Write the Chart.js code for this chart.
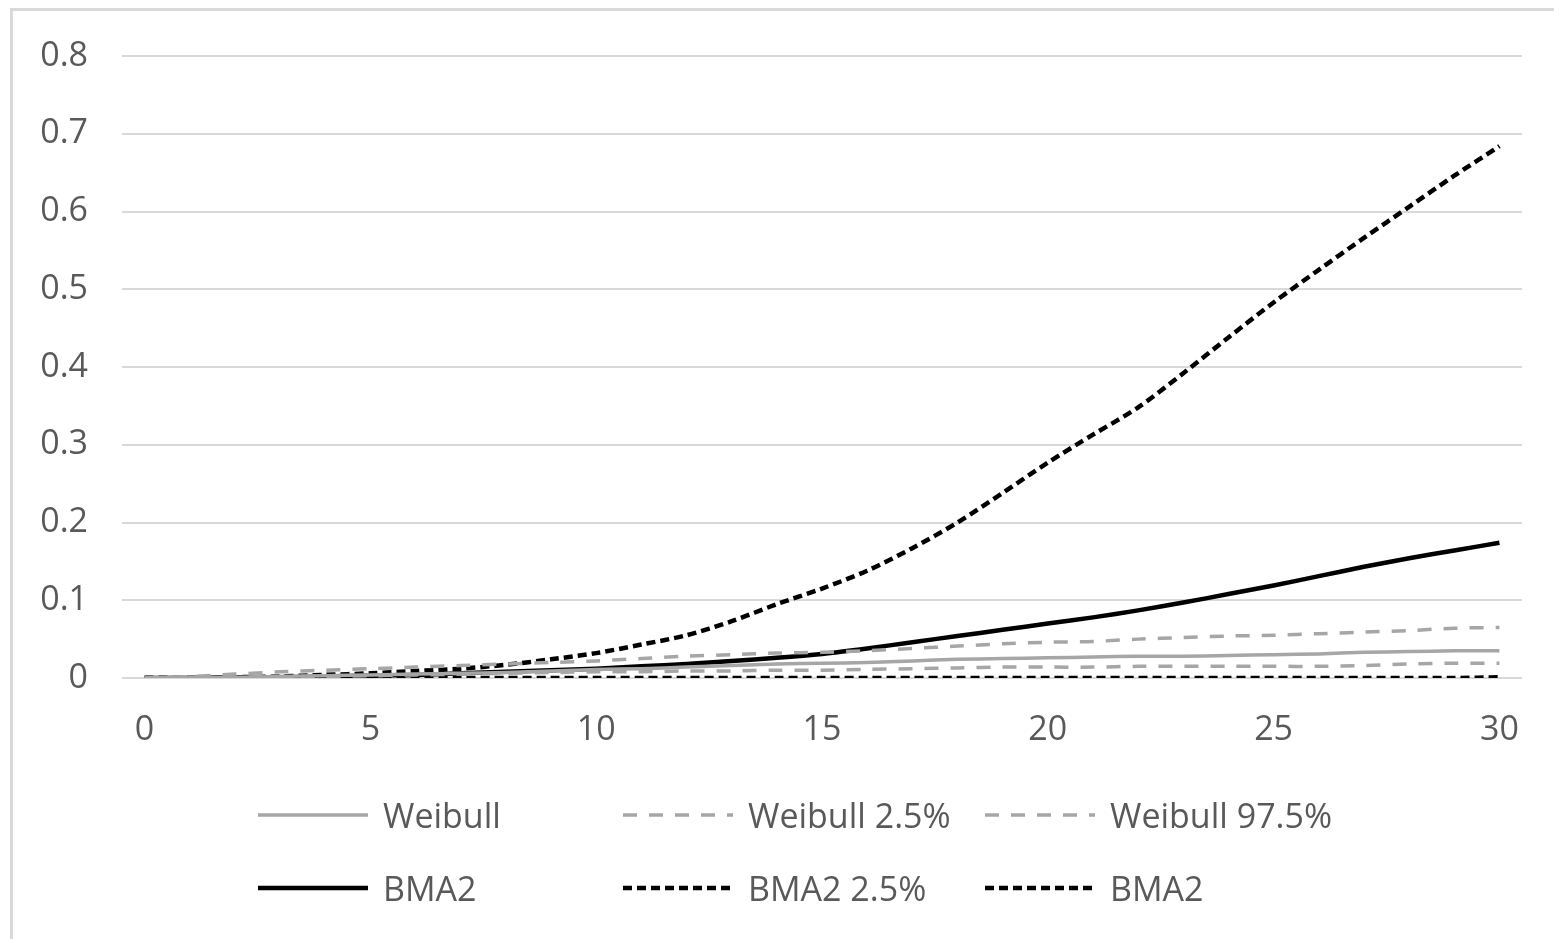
<!DOCTYPE html>
<html>
<head>
<meta charset="utf-8">
<title>Weibull vs BMA2</title>
<script src="https://cdn.jsdelivr.net/npm/chart.js@4.4.0/dist/chart.umd.min.js"></script>
<style>
	html, body { margin: 0; padding: 0; background: #fff; overflow: hidden; }
	#wrap { position: relative; width: 1554px; height: 939px; }
	#frame {
		position: absolute; left: 10px; top: 8px;
		width: 1600px; height: 1000px;
		border: 3px solid #d9d9d9; box-sizing: border-box;
	}
	#chartBox { position: absolute; left: 0; top: 0; width: 1554px; height: 939px; }
	#legend {
		position: absolute; left: 258px; top: 790px;
		display: grid; grid-template-columns: 365px 362px 320px;
		row-gap: 23px;
		font-family: "Open Sans", sans-serif; font-size: 34px; color: #595959;
	}
	.item { display: flex; align-items: center; height: 50px; white-space: nowrap; }
	.item svg { margin-right: 15px; flex-shrink: 0; }
</style>
</head>
<body>
<div id="wrap">
	<div id="frame"></div>
	<div id="chartBox"><canvas id="chart"></canvas></div>
	<div id="legend"></div>
</div>
<script>
// x = 0..30
const years = Array.from({ length: 31 }, (_, i) => String(i));
const xTickLabels = ["0", "5", "10", "15", "20", "25", "30"];
const yTicks = [0, 0.1, 0.2, 0.3, 0.4, 0.5, 0.6, 0.7, 0.8];

const seriesNames = ["Weibull", "Weibull 2.5%", "Weibull 97.5%", "BMA2", "BMA2 2.5%", "BMA2"];

const weibull = [0, 0.001, 0.001, 0.002, 0.003, 0.004, 0.005, 0.006, 0.007, 0.009, 0.011,
	0.012, 0.014, 0.016, 0.018, 0.019, 0.020, 0.022, 0.024, 0.025, 0.026,
	0.027, 0.028, 0.028, 0.029, 0.030, 0.031, 0.033, 0.034, 0.035, 0.035];
const weibullLow = [0, 0.001, 0.001, 0.002, 0.002, 0.003, 0.004, 0.005, 0.006, 0.007, 0.008,
	0.008, 0.009, 0.009, 0.010, 0.010, 0.011, 0.012, 0.013, 0.014, 0.014,
	0.014, 0.015, 0.015, 0.015, 0.015, 0.015, 0.016, 0.018, 0.019, 0.019];
const weibullHigh = [0, 0.002, 0.005, 0.008, 0.010, 0.012, 0.014, 0.016, 0.018, 0.020, 0.022,
	0.025, 0.028, 0.030, 0.032, 0.033, 0.035, 0.038, 0.041, 0.044, 0.046,
	0.047, 0.050, 0.052, 0.054, 0.055, 0.057, 0.059, 0.061, 0.064, 0.065];
const bma2 = [0, 0, 0.001, 0.001, 0.002, 0.003, 0.004, 0.006, 0.008, 0.010, 0.012,
	0.015, 0.018, 0.022, 0.026, 0.031, 0.038, 0.046, 0.054, 0.062, 0.070,
	0.078, 0.087, 0.097, 0.108, 0.119, 0.131, 0.143, 0.154, 0.164, 0.174];
const bma2Low = [0, 0, 0, 0, 0, 0, 0, 0, 0, 0, 0,
	0, 0, 0, 0, 0, 0, 0, 0, 0, 0,
	0, 0, 0, 0, 0, 0, 0, 0, 0, 0.001];
const bma2High = [0, 0.000, 0.001, 0.002, 0.004, 0.006, 0.009, 0.012, 0.017, 0.024, 0.032,
	0.043, 0.055, 0.073, 0.095, 0.115, 0.138, 0.167, 0.200, 0.238, 0.277,
	0.313, 0.348, 0.392, 0.438, 0.483, 0.525, 0.566, 0.606, 0.646, 0.684];

const GRAY = "#a6a6a6";
const BLACK = "#000000";

const styles = [
	{ color: GRAY, width: 3.5, dash: [] },
	{ color: GRAY, width: 3.5, dash: [14, 12] },
	{ color: GRAY, width: 3.5, dash: [14, 12] },
	{ color: BLACK, width: 4.5, dash: [] },
	{ color: BLACK, width: 4.5, dash: [9, 5] },
	{ color: BLACK, width: 4.5, dash: [9, 5] }
];
const values = [weibull, weibullLow, weibullHigh, bma2, bma2Low, bma2High];

const datasets = values.map((data, i) => ({
	label: seriesNames[i],
	data: data,
	borderColor: styles[i].color,
	borderWidth: styles[i].width,
	borderDash: styles[i].dash,
	pointRadius: 0,
	tension: 0.3,
	fill: false
}));

const FONT = { family: "'Open Sans', sans-serif", size: 34 };

new Chart(document.getElementById("chart"), {
	type: "line",
	data: { labels: years, datasets: datasets },
	options: {
		responsive: true,
		maintainAspectRatio: false,
		animation: false,
		layout: { padding: { left: 0, top: 56, right: 32, bottom: 181 } },
		plugins: { legend: { display: false }, tooltip: { enabled: false } },
		scales: {
			x: {
				type: "category",
				offset: true,
				grid: { display: false, drawTicks: false },
				border: { display: false },
				ticks: {
					autoSkip: false,
					maxRotation: 0,
					padding: 32,
					color: "#595959",
					font: FONT,
					callback: function (v, i) {
						const lbl = this.getLabelForValue(v);
						return xTickLabels.includes(lbl) ? lbl : null;
					}
				},
				afterFit: (s) => { s.height = 80; }
			},
			y: {
				min: 0,
				max: 0.8,
				afterBuildTicks: (s) => { s.ticks = yTicks.map(v => ({ value: v })); },
				grid: { color: "#d9d9d9", lineWidth: 2, drawTicks: false },
				border: { display: false },
				ticks: {
					padding: 34,
					color: "#595959",
					font: FONT,
					callback: (v) => String(Math.round(v * 10) / 10)
				},
				afterFit: (s) => { s.width = 122; }
			}
		}
	}
});

// legend in three fixed columns, like the original
const legendEl = document.getElementById("legend");
seriesNames.forEach((name, i) => {
	const st = styles[i];
	const div = document.createElement("div");
	div.className = "item";
	const dash = st.dash.length ? ` stroke-dasharray="${st.dash.join(" ")}"` : "";
	div.innerHTML = `<svg width="110" height="10"><line x1="0" y1="5" x2="110" y2="5" stroke="${st.color}" stroke-width="${st.width}"${dash}/></svg><span>${name}</span>`;
	legendEl.appendChild(div);
});
</script>
</body>
</html>
